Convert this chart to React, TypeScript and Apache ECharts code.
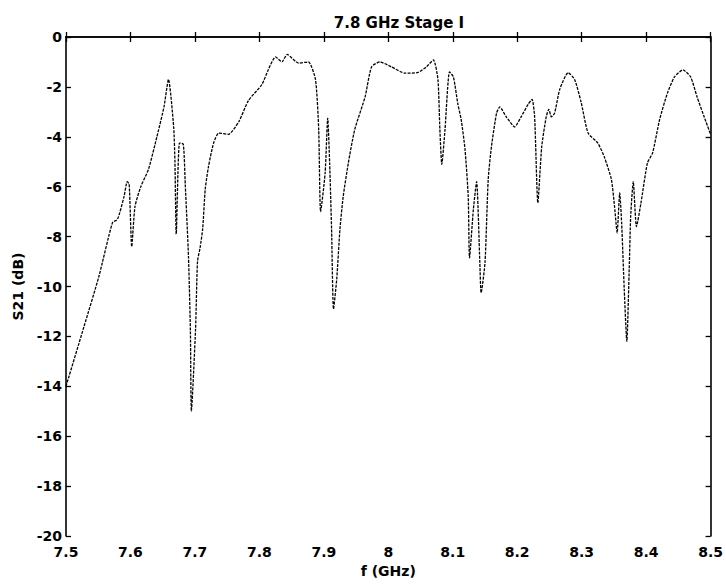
import React, { useEffect, useRef } from "react";
import * as echarts from "echarts";

const freqGHz: number[] = [
  7.5, 7.528, 7.551, 7.572, 7.58, 7.59, 7.595, 7.598, 7.602, 7.607, 7.616, 7.628, 7.641, 7.652, 7.659,
  7.667, 7.669, 7.671, 7.676, 7.682, 7.685, 7.69, 7.693, 7.6945, 7.701, 7.704, 7.708, 7.712, 7.716,
  7.721, 7.729, 7.737, 7.752, 7.768, 7.783, 7.804, 7.814, 7.825, 7.835, 7.843, 7.861, 7.876, 7.887,
  7.892, 7.895, 7.902, 7.906, 7.909, 7.912, 7.915, 7.92, 7.925, 7.93, 7.938, 7.948, 7.964, 7.974,
  7.987, 8.005, 8.026, 8.046, 8.059, 8.07, 8.077, 8.08, 8.083, 8.088, 8.095, 8.101, 8.108, 8.113,
  8.119, 8.124, 8.126, 8.132, 8.137, 8.142, 8.144, 8.15, 8.155, 8.16, 8.168, 8.173, 8.183, 8.196,
  8.206, 8.217, 8.223, 8.227, 8.232, 8.238, 8.245, 8.249, 8.253, 8.258, 8.266, 8.279, 8.289, 8.299,
  8.31, 8.325, 8.335, 8.346, 8.351, 8.355, 8.359, 8.362, 8.366, 8.37, 8.374, 8.376, 8.38, 8.385,
  8.392, 8.402, 8.41, 8.421, 8.433, 8.444, 8.457, 8.469, 8.479, 8.49, 8.5,
];

const s21dB: number[] = [
  -14.0, -11.6, -9.6, -7.45, -7.3, -6.4, -5.8, -5.9, -8.4, -6.8, -6.0, -5.3, -4.0, -2.8, -1.7,
  -3.6, -5.0, -7.9, -4.25, -4.3, -5.9, -8.8, -11.8, -15.0, -11.7, -9.0, -8.45, -7.7, -6.1,
  -5.2, -4.25, -3.85, -3.9, -3.4, -2.55, -1.9, -1.3, -0.8, -1.0, -0.7, -1.05, -1.0, -1.7,
  -3.7, -7.0, -5.45, -3.25, -5.05, -7.7, -10.9, -9.7, -7.7, -6.4, -5.05, -3.7, -2.4, -1.2,
  -1.0, -1.2, -1.45, -1.42, -1.2, -0.92, -1.7, -3.7, -5.1, -3.7, -1.4, -1.6, -2.7, -3.3,
  -4.5, -6.4, -8.85, -6.9, -5.8, -9.05, -10.25, -9.05, -5.7, -4.4, -3.05, -2.8, -3.2, -3.6,
  -3.2, -2.7, -2.5, -3.2, -6.65, -4.4, -3.2, -2.9, -3.2, -3.05, -2.1, -1.43, -1.7, -2.6,
  -3.85, -4.25, -4.8, -5.7, -6.8, -7.85, -6.25, -7.45, -10.1, -12.2, -9.05, -7.2, -5.8, -7.6,
  -6.65, -5.05, -4.65, -3.3, -2.25, -1.6, -1.32, -1.6, -2.4, -3.2, -3.9,
];

const titleText = "7.8 GHz Stage I";
const xName = "f (GHz)";
const yName = "S21 (dB)";

const FONT = "DejaVu Sans";

export default function App() {
  const ref = useRef<HTMLDivElement>(null);
  useEffect(() => {
    if (!ref.current) return;
    const chart = echarts.init(ref.current, null, { renderer: "svg" });
    const data = freqGHz.map((f, i) => [f, s21dB[i]]);
    const axisLine = { show: true, lineStyle: { color: "#000", width: 1.6 } };
    const tickIn = { show: true, inside: true, length: 5, lineStyle: { color: "#000", width: 1.3 } };
    chart.setOption({
      animation: false,
      backgroundColor: "#fff",
      title: {
        text: titleText,
        left: 394,
        top: 10,
        textAlign: "center",
        textStyle: { fontFamily: FONT, fontWeight: "bold", fontSize: 15, color: "#000" },
      },
      grid: { left: 66, right: 13, top: 37, bottom: 48 },
      xAxis: [
        {
          type: "value",
          min: 7.5,
          max: 8.5,
          interval: 0.1,
          name: xName,
          nameLocation: "middle",
          nameGap: 25,
          nameTextStyle: { fontFamily: FONT, fontWeight: "bold", fontSize: 14, color: "#000" },
          axisLine,
          axisTick: tickIn,
          splitLine: { show: false },
          axisLabel: {
            margin: 9,
            fontFamily: FONT,
            fontWeight: "bold",
            fontSize: 14,
            color: "#000",
            formatter: (v: number) => String(Number(v.toFixed(1))),
          },
        },
        {
          type: "value",
          position: "top",
          min: 7.5,
          max: 8.5,
          interval: 0.1,
          axisLine,
          axisTick: tickIn,
          axisLabel: { show: false },
          splitLine: { show: false },
        },
      ],
      yAxis: [
        {
          type: "value",
          min: -20,
          max: 0,
          interval: 2,
          name: yName,
          nameLocation: "middle",
          nameGap: 41,
          nameTextStyle: { fontFamily: FONT, fontWeight: "bold", fontSize: 14, color: "#000" },
          axisLine,
          axisTick: tickIn,
          splitLine: { show: false },
          axisLabel: {
            margin: 4,
            fontFamily: FONT,
            fontWeight: "bold",
            fontSize: 14,
            color: "#000",
          },
        },
        {
          type: "value",
          position: "right",
          min: -20,
          max: 0,
          interval: 2,
          axisLine,
          axisTick: tickIn,
          axisLabel: { show: false },
          splitLine: { show: false },
        },
      ],
      series: [
        {
          type: "line",
          data,
          showSymbol: false,
          symbol: "none",
          smooth: 0.2,
          lineStyle: { color: "#000", width: 1.3, type: [3, 1.2] },
        },
      ],
    });
    return () => chart.dispose();
  }, []);
  return (
    <div
      ref={ref}
      style={{ position: "fixed", left: 0, top: 0, width: 726, height: 584, background: "#fff" }}
    />
  );
}
